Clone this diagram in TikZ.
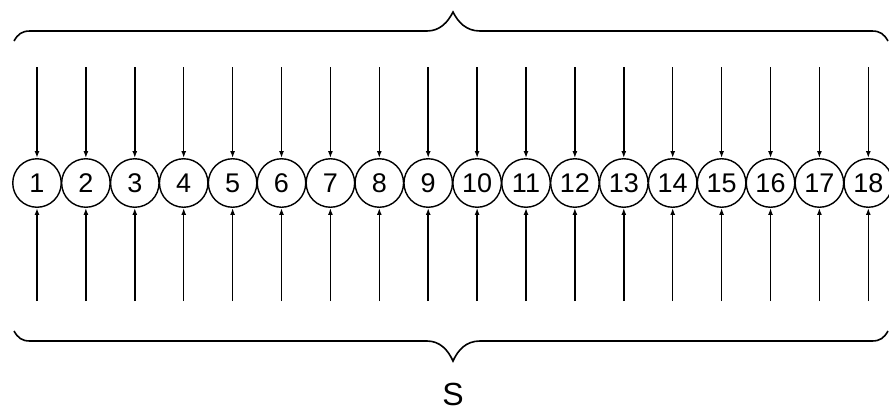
\documentclass[tikz,border=0pt]{standalone}
\usepackage{fontspec}
\setmainfont{Liberation Sans}
\usetikzlibrary{arrows.meta,calc}

\tikzset{
    pin/.style={circle, draw, line width=1.4pt, minimum size=48.5pt, inner sep=0pt,
        font=\fontsize{27}{27}\selectfont},
    lead/.style={line width=1.5pt, -{Latex[length=7pt,width=5pt]}},
    brace/.style={line width=1.6pt}
}

\begin{document}
\begin{tikzpicture}[x=1pt,y=-1pt]
    \useasboundingbox (0,0) rectangle (889,410);
    % terminals with their leads
    \foreach \i in {1,...,18} {
        \node [pin] (c\i) at ({37+48.9*(\i-1)}, 183) {\i};
        \coordinate (t\i) at ({37+48.9*(\i-1)}, 67);
        \coordinate (b\i) at ({37+48.9*(\i-1)}, 301);
        \draw [lead] (t\i) -- (c\i.north);
        \draw [lead] (b\i) -- (c\i.south);
    }
    % braces
    \draw [brace] (14,41) .. controls (18,34) and (22,31) .. (30,31)
        -- (427,31) .. controls (440,31) and (448,22) .. (453,12)
        .. controls (458,22) and (466,31) .. (480,31)
        -- (872,31) .. controls (880,31) and (884,34) .. (888,41);
    \draw [brace] (14,331) .. controls (18,338) and (22,341) .. (30,341)
        -- (427,341) .. controls (440,341) and (448,350) .. (453,361)
        .. controls (458,350) and (466,341) .. (480,341)
        -- (872,341) .. controls (880,341) and (884,338) .. (888,331);
    \node [font=\fontsize{32}{32}\selectfont] (s) at (453,394) {S};
\end{tikzpicture}
\end{document}
